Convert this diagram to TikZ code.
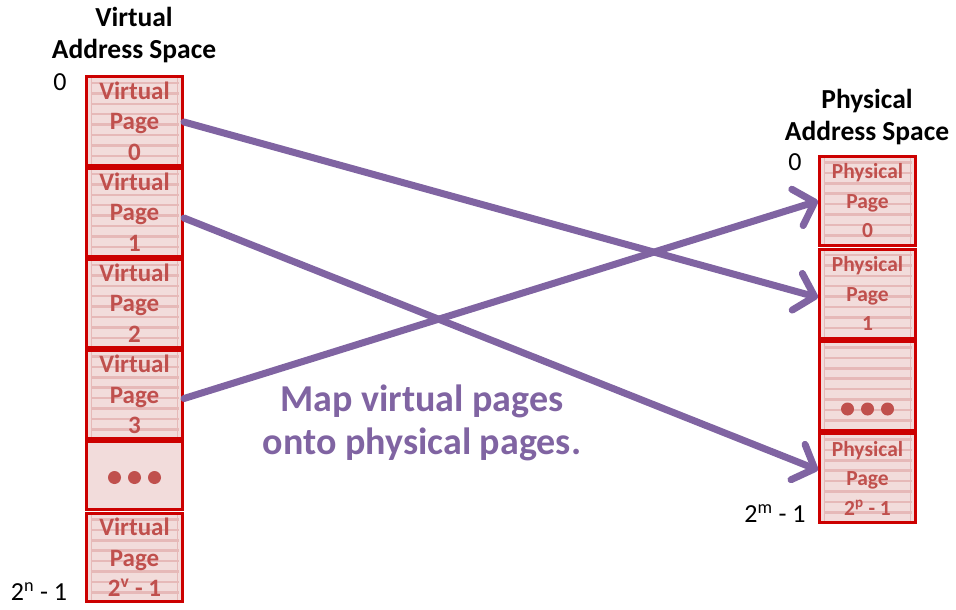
\documentclass[tikz,border=0pt]{standalone}
\usepackage{fontspec}
\setmainfont{Carlito}
\usetikzlibrary{arrows.meta}
\tikzset{>=latex}
\definecolor{pageBorder}{RGB}{204,0,0}
\definecolor{pageFill}{RGB}{242,220,219}
\definecolor{stripeColour}{RGB}{230,185,184}
\definecolor{pageText}{RGB}{192,80,77}
\definecolor{mapColour}{RGB}{128,100,162}
\tikzset{
	page/.style={draw=pageBorder, line width=3, fill=pageFill, minimum width=96, inner sep=0,
		text=pageText, align=center},
	striped/.style={path picture={
		\foreach \k in {0,...,8}
			\draw[stripeColour, line width=2.5] ([xshift=4, yshift=-6-\k*10.4]path picture bounding box.north west)
				-- ([xshift=-4, yshift=-6-\k*10.4]path picture bounding box.north east);
		\draw[stripeColour, line width=1.5] ([xshift=5]path picture bounding box.north west)
			-- ([xshift=5]path picture bounding box.south west);
		\draw[stripeColour, line width=1.5] ([xshift=-5]path picture bounding box.north east)
			-- ([xshift=-5]path picture bounding box.south east);
	}},
	vpage/.style={page, striped, minimum height=88, font=\fontsize{25}{30.5}\selectfont\bfseries},
	ppage/.style={page, striped, minimum height=89, font=\fontsize{21.5}{29.5}\selectfont\bfseries},
	heading/.style={align=center, font=\fontsize{27.5}{32}\selectfont\bfseries},
	addr/.style={font=\fontsize{26}{30}\selectfont},
	mapping/.style={mapColour, line width=7, line cap=round,
		-{Straight Barb[length=18, width=38, line width=7, round]}}
}
\begin{document}
\begin{tikzpicture}[x=1pt, y=-1pt]
	\useasboundingbox (0, 0) rectangle (956, 610);

	% the virtual address space
	\node[heading] (vhead) at (134, 35) {Virtual\\Address Space};
	\node[vpage] (vp0) at (134.5, 121) {Virtual\\Page\\0};
	\node[vpage] (vp1) at (134.5, 212) {Virtual\\Page\\1};
	\node[vpage] (vp2) at (134.5, 303) {Virtual\\Page\\2};
	\node[vpage] (vp3) at (134.5, 394.5) {Virtual\\Page\\3};
	\node[page, minimum height=68] (vdots) at (134.5, 475.5) {};
	\node[vpage] (vpn) at (134.5, 557.5) {Virtual\\Page\\2\textsuperscript{v} - 1};
	\foreach \dx in {-20, 0, 20}
		\fill[pageText] ([xshift=\dx, yshift=-2]vdots.center) circle (6.5);
	\node[addr] (vzero) at (60, 82) {0};
	\node[addr] (vlast) at (39, 592) {2\textsuperscript{n} - 1};

	% the physical address space
	\node[heading] (phead) at (867, 117) {Physical\\Address Space};
	\node[ppage] (pp0) at (867.5, 201) {Physical\\Page\\0};
	\node[ppage] (pp1) at (867.5, 293.5) {Physical\\Page\\1};
	\node[page, striped, minimum height=89] (pdots) at (867.5, 386) {};
	\node[ppage] (ppn) at (867.5, 478) {Physical\\Page\\2\textsuperscript{p} - 1};
	\foreach \dx in {-20, 0, 20}
		\fill[pageText] ([xshift=\dx, yshift=-23]pdots.center) circle (6.5);
	\node[addr] (pzero) at (795, 162) {0};
	\node[addr] (plast) at (775, 514) {2\textsuperscript{m} - 1};

	% the mapping
	\draw[mapping] ([yshift=-1]vp0.east) -- ([yshift=-4]pp1.west);
	\draw[mapping] ([yshift=-6]vp1.east) -- ([yshift=8]ppn.west);
	\draw[mapping] ([yshift=-4]vp3.east) -- (pp0.west);
	\node[mapColour, align=center, font=\fontsize{38}{43}\selectfont\bfseries] (maptext) at (422, 423)
		{Map virtual pages\\onto physical pages.};
\end{tikzpicture}
\end{document}
